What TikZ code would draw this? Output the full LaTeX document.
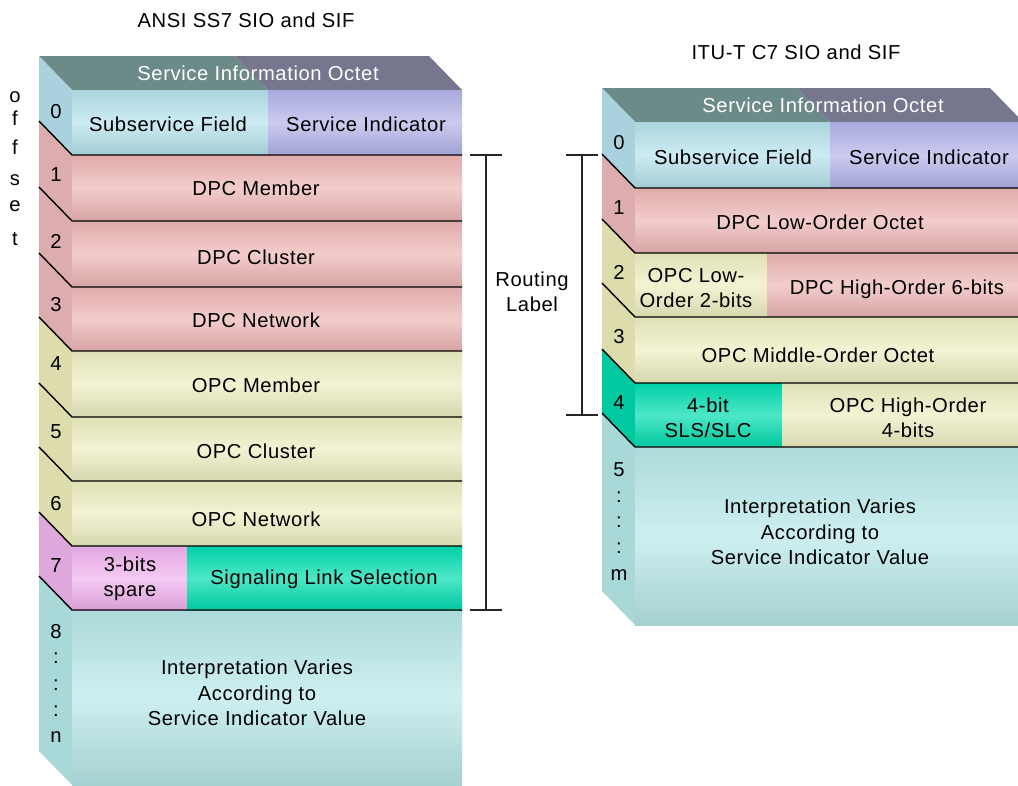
\documentclass[tikz,border=0pt]{standalone}
\usepackage{fontspec}
\setmainfont{Liberation Sans}[LetterSpace=3]
\usepackage{xcolor}
\usepackage{tikz}
\usetikzlibrary{positioning}
\definecolor{topgreen}{HTML}{6C8A88}
\definecolor{topviolet}{HTML}{76768F}
\definecolor{sioblue}{HTML}{B6E2EC}
\definecolor{sioblueside}{HTML}{AAD2DE}
\definecolor{lavender}{HTML}{B4B4EA}
\definecolor{dpcpink}{HTML}{EEB6B6}
\definecolor{dpcside}{HTML}{DCACAE}
\definecolor{opcyellow}{HTML}{EEEEC2}
\definecolor{opcside}{HTML}{DCDCAC}
\definecolor{spareviolet}{HTML}{F0B2EE}
\definecolor{spareside}{HTML}{DEA8DC}
\definecolor{slsgreen}{HTML}{00DDB0}
\definecolor{slsside}{HTML}{00C8A0}
\definecolor{sifcyan}{HTML}{B8E8E8}
\definecolor{sifside}{HTML}{A8D8D8}

\begin{document}
\begin{tikzpicture}[
    x=0.02cm, y=-0.02cm,
    every node/.style={font=\fontsize{11.5}{14.5}\selectfont, inner sep=0pt, align=center},
    field/.style={text=black},
    offs/.style={text=black},
    heading/.style={text=black},
    topface/.style={text=white},
    cell/.style={top color=#1!94!black, bottom color=#1!90!black, middle color=#1!70!white},
    rowline/.style={draw=black, line width=0.8pt},
    bracket/.style={draw=black!85, line width=1.1pt}
]
\fill[white] (0,0) rectangle (1018,785);
\useasboundingbox (0,0) rectangle (1018,785);
\clip (0,0) rectangle (1018,785);

% Titles
\node[heading] (ansititle) at (246,20) {ANSI SS7 SIO and SIF};
\node[heading] (itutitle) at (796,52) {ITU-T C7 SIO and SIF};

% Left stack: top face
\fill[topgreen] (39,56) -- (235,56) -- (268,90) -- (72,90) -- cycle;
\fill[topviolet] (235,56) -- (429,56) -- (462,90) -- (268,90) -- cycle;

% Left stack: side faces
\foreach \ya/\yb/\col in {90/155/sioblueside, 155/221/dpcside, 221/287/dpcside, 287/351/dpcside,
    351/417/opcside, 417/481/opcside, 481/546/opcside, 546/610/spareside, 610/785/sifside}
  \fill[fill=\col] (72,\ya) -- (72,\yb) -- (39,\yb-34) -- (39,\ya-34) -- cycle;

% Left stack: front cells
\shade[cell=sioblue] (72,90) rectangle (268,155);
\shade[cell=lavender] (268,90) rectangle (462,155);
\foreach \ya/\yb/\col in {155/221/dpcpink, 221/287/dpcpink, 287/351/dpcpink,
    351/417/opcyellow, 417/481/opcyellow, 481/546/opcyellow, 610/785/sifcyan}
  \shade[cell=\col] (72,\ya) rectangle (462,\yb);
\shade[cell=spareviolet] (72,546) rectangle (187,610);
\shade[cell=slsgreen] (187,546) rectangle (462,610);

% Left stack: row lines
\foreach \yb in {155,221,287,351,417,481,546,610}
  \draw[rowline] (39,\yb-34) -- (72,\yb) -- (462,\yb);

% Left stack: texts
\node[topface] (sioL) at (258,73) {Service Information Octet};
\node[field] (ssfL) at (168,124) {Subservice Field};
\node[field] (siL) at (366,124) {Service Indicator};
\node[field] (dpcmem) at (256,188) {DPC Member};
\node[field] (dpcclu) at (256,257) {DPC Cluster};
\node[field] (dpcnet) at (256,320) {DPC Network};
\node[field] (opcmem) at (256,385) {OPC Member};
\node[field] (opcclu) at (256,451) {OPC Cluster};
\node[field] (opcnet) at (256,519) {OPC Network};
\node[field] (spare) at (130,579) {3-bits\\spare};
\node[field] (sls) at (324,579) {Signaling Link Selection};
\node[field] (sifL) at (257,693) {Interpretation Varies\\According to\\Service Indicator Value};

% Left stack: offsets
\foreach \lab/\yy [count=\i] in {0/112, 1/175, 2/241, 3/305, 4/364, 5/432, 6/504, 7/566, 8/632, :/658, :/685, :/711, n/737}
  \node[offs] (offL\i) at (56,\yy) {\lab};
\foreach \ch/\yy [count=\i] in {o/102, f/125, f/154, s/185, e/211, t/245}
  \node[offs, anchor=base] (offword\i) at (15,\yy) {\ch};

% Right stack: top face
\fill[topgreen] (602,88) -- (797,88) -- (830,122) -- (635,122) -- cycle;
\fill[topviolet] (797,88) -- (990,88) -- (1023,122) -- (830,122) -- cycle;

% Right stack: side faces
\foreach \ya/\yb/\col in {122/188/sioblueside, 188/253/dpcside, 253/317/opcside, 317/383/opcside,
    383/447/slsside, 447/625/sifside}
  \fill[fill=\col] (635,\ya) -- (635,\yb) -- (602,\yb-34) -- (602,\ya-34) -- cycle;

% Right stack: front cells
\shade[cell=sioblue] (635,122) rectangle (830,188);
\shade[cell=lavender] (830,122) rectangle (1023,188);
\shade[cell=dpcpink] (635,188) rectangle (1023,253);
\shade[cell=opcyellow] (635,253) rectangle (767,317);
\shade[cell=dpcpink] (767,253) rectangle (1023,317);
\shade[cell=opcyellow] (635,317) rectangle (1023,383);
\shade[cell=slsgreen] (635,383) rectangle (782,447);
\shade[cell=opcyellow] (782,383) rectangle (1023,447);
\shade[cell=sifcyan] (635,447) rectangle (1023,625);

% Right stack: row lines
\foreach \yb in {188,253,317,383,447}
  \draw[rowline] (602,\yb-34) -- (635,\yb) -- (1023,\yb);

% Right stack: texts
\node[topface] (sioR) at (823,105) {Service Information Octet};
\node[field] (ssfR) at (733,157) {Subservice Field};
\node[field] (siR) at (929,157) {Service Indicator};
\node[field] (dpclow) at (820,222) {DPC Low-Order Octet};
\node[field] (opclow) at (696,288) {OPC Low-\\Order 2-bits};
\node[field] (dpchigh) at (897,289) {DPC High-Order 6-bits};
\node[field] (opcmid) at (818,355) {OPC Middle-Order Octet};
\node[field] (slsslc) at (708,418) {4-bit\\SLS/SLC};
\node[field] (opchigh) at (908,418) {OPC High-Order\\4-bits};
\node[field] (sifR) at (820,532) {Interpretation Varies\\According to\\Service Indicator Value};

% Right stack: offsets
\foreach \lab/\yy [count=\i] in {0/143, 1/208, 2/272, 3/337, 4/403, 5/470, :/497, :/522, :/548, m/575}
  \node[offs] (offR\i) at (619,\yy) {\lab};

% Routing label brackets
\draw[bracket] (470,155) -- (502,155) (486,155) -- (486,610) (470,610) -- (502,610);
\draw[bracket] (566,155) -- (598,155) (582,155) -- (582,415) (566,415) -- (598,415);
\node[field] (routing) at (532,292) {Routing\\Label};

\end{tikzpicture}
\end{document}
